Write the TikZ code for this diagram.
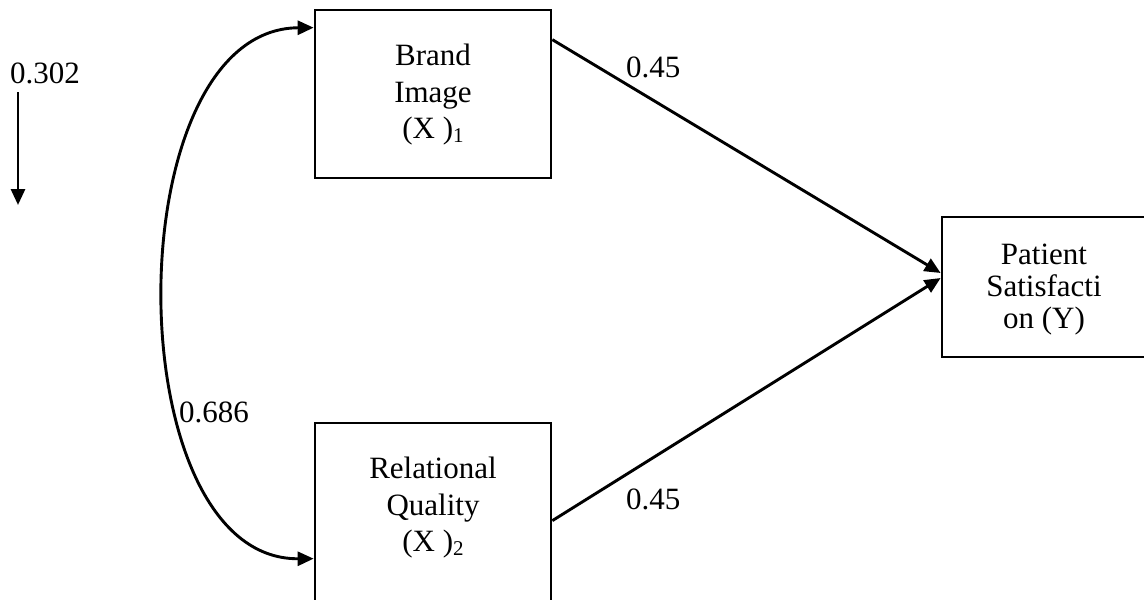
\documentclass[tikz,border=0pt]{standalone}
\usepackage{fontspec}
\setmainfont{Liberation Serif}
\usetikzlibrary{arrows.meta,calc}
\newcommand{\sbs}[1]{\raisebox{-4pt}{\fontsize{21}{21}\selectfont #1}}
\begin{document}
\begin{tikzpicture}[x=1pt,y=-1pt,
  box/.style={draw,line width=2.7pt,rectangle,inner sep=0pt},
  txt/.style={align=center,font=\fontsize{31}{36.5}\selectfont,inner sep=0pt},
  lbl/.style={font=\fontsize{31}{36}\selectfont,inner sep=0pt,anchor=base west},
  conn/.style={line width=2.9pt,-{Triangle[length=16pt,width=14pt]}},
  conn2/.style={line width=2.9pt,{Triangle[length=16pt,width=14pt]}-{Triangle[length=16pt,width=14pt]}}]
\clip (0,0) rectangle (1144,600);
\path[use as bounding box] (0,0) rectangle (1144,600);
% boxes
\node[box,minimum width=236pt,minimum height=168pt] (brand) at (433,94) {};
\node[txt] (brandtxt) at (433,95) {Brand\\Image\\(X )\sbs{1}};
\node[box,minimum width=236pt,minimum height=200pt] (rel) at (433,523) {};
\node[txt] (reltxt) at (433,508) {Relational\\Quality\\(X )\sbs{2}};
\node[box,minimum width=206pt,minimum height=140pt] (pat) at (1045,287) {};
\node[txt,font=\fontsize{31}{32}\selectfont] (pattxt) at (1044,290) {Patient\\Satisfacti\\on (Y)};
% labels
\node[lbl] (l302) at (10,83) {0.302};
\node[lbl] (l45a) at (626,77) {0.45};
\node[lbl] (l45b) at (626,509) {0.45};
\node[lbl] (l686) at (179,422) {0.686};
% connectors
\draw[conn] ($(brand.north east)+(0,31)$) -- ($(pat.west)+(0,-14)$);
\draw[conn] ($(rel.north east)+(0,99)$) -- ($(pat.west)+(0,-9)$);
\coordinate (ctop) at ($(brand.north west)+(0,19)$);
\coordinate (cbot) at ($(rel.north west)+(0,137)$);
\draw[conn2] (ctop) .. controls (115,29) and (115,560) .. (cbot);
\coordinate (a1) at (18,92);
\coordinate (a2) at (18,205);
\draw[conn] (a1) -- (a2);
\end{tikzpicture}
\end{document}
